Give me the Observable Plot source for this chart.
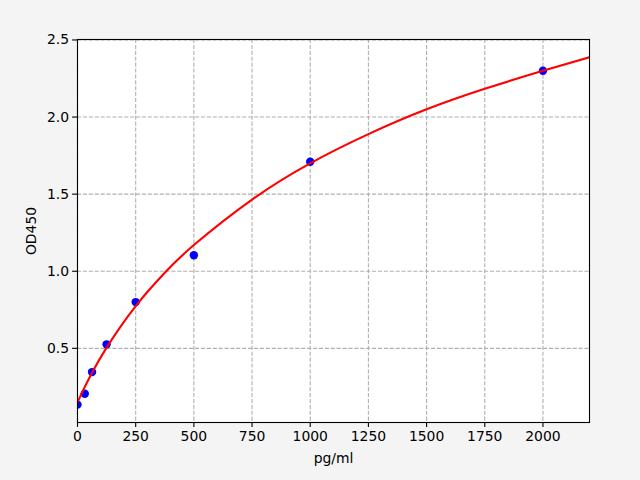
<!DOCTYPE html>
<html>
<head>
<meta charset="utf-8">
<script src="https://cdn.jsdelivr.net/npm/d3@7"></script>
<script src="https://cdn.jsdelivr.net/npm/@observablehq/plot@0.6"></script>
<style>
  html, body { margin: 0; padding: 0; background: #f4f4f4; }
  #chart { width: 640px; height: 480px; }
</style>
</head>
<body>
<div id="chart"></div>
<script>
// Standard points (measured)
const concentrations = [0, 31.25, 62.5, 125, 250, 500, 1000, 2000];
const od450 = [0.135, 0.205, 0.346, 0.526, 0.80, 1.104, 1.71, 2.30];

// Fitted curve
const curveX = [0, 31.25, 62.5, 125, 250, 375, 500, 750, 1000, 1250, 1500, 1750, 2000, 2200];
const curveY = [0.15, 0.25, 0.342, 0.505, 0.774, 0.99, 1.17, 1.465, 1.70, 1.889, 2.05, 2.183, 2.30, 2.388];

// Tick labels
const xTicks = [0, 250, 500, 750, 1000, 1250, 1500, 1750, 2000];
const yTicks = [0.5, 1.0, 1.5, 2.0, 2.5];

const points = concentrations.map((c, i) => ({x: c, y: od450[i]}));
const curve = curveX.map((c, i) => ({x: c, y: curveY[i]}));

const gridStyle = {stroke: "#b0b0b0", strokeOpacity: 1, strokeWidth: 1.1, strokeDasharray: "4.1,1.8"};

const chart = Plot.plot({
  width: 640,
  height: 480,
  marginLeft: 77,
  marginRight: 51,
  marginTop: 39,
  marginBottom: 58,
  style: {background: "#f4f4f4", fontFamily: "DejaVu Sans", fontSize: "13.9px", color: "black"},
  x: {domain: [0, 2200]},
  y: {domain: [0.019, 2.503]},
  marks: [
    Plot.frame({fill: "white", stroke: "none"}),
    Plot.gridX(xTicks, gridStyle),
    Plot.gridY(yTicks, gridStyle),
    Plot.dot(points, {x: "x", y: "y", r: 4.2, fill: "#0000ff", stroke: "none", clip: true}),
    Plot.line(curve, {x: "x", y: "y", stroke: "#ff0000", strokeWidth: 2.1, curve: "natural", clip: true}),
    Plot.frame({stroke: "black", strokeWidth: 1.1}),
    Plot.axisX(xTicks, {tickSize: 4.9, tickPadding: 3.5, strokeWidth: 1.1, tickFormat: d3.format("d"), label: "pg/ml", labelAnchor: "center", labelArrow: "none", labelOffset: 40, fill: "black"}),
    Plot.axisY(yTicks, {tickSize: 4.9, tickPadding: 3.5, strokeWidth: 1.1, tickFormat: d3.format(".1f"), label: "OD450", labelAnchor: "center", labelArrow: "none", labelOffset: 51, fill: "black"})
  ]
});
document.getElementById("chart").appendChild(chart);
</script>
</body>
</html>
